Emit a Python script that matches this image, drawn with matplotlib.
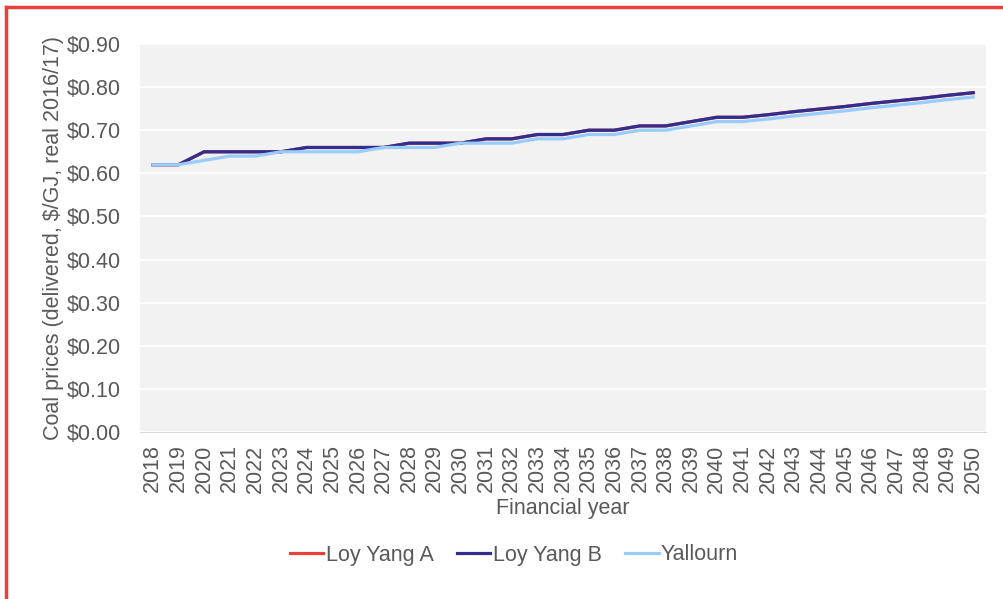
import matplotlib.pyplot as plt
from matplotlib.ticker import FuncFormatter
from matplotlib.lines import Line2D

plt.rcParams['font.family'] = ['Liberation Sans', 'DejaVu Sans']

years = list(range(2018, 2051))
loy_yang_a = [0.62, 0.62, 0.65, 0.65, 0.65, 0.65, 0.66, 0.66, 0.66, 0.66,
              0.67, 0.67, 0.67, 0.68, 0.68, 0.69, 0.69, 0.70, 0.70, 0.71,
              0.71, 0.72, 0.73, 0.73, 0.736, 0.743, 0.749, 0.755, 0.762,
              0.768, 0.774, 0.781, 0.787]
loy_yang_b = list(loy_yang_a)
yallourn = [0.62, 0.62, 0.63, 0.64, 0.64, 0.65, 0.65, 0.65, 0.65, 0.66,
            0.66, 0.66, 0.67, 0.67, 0.67, 0.68, 0.68, 0.69, 0.69, 0.70,
            0.70, 0.71, 0.72, 0.72, 0.726, 0.733, 0.739, 0.745, 0.752,
            0.758, 0.764, 0.771, 0.777]

text_col = '#595959'
fs = 15.5
fig = plt.figure(figsize=(10.04, 5.99), dpi=100)
ax = fig.add_axes([140 / 1004, 1 - 432 / 599, 846 / 1004, 388 / 599])
ax.set_facecolor('#F2F2F2')

ax.plot(years, loy_yang_a, color='#E8413A', lw=2.3, label='Loy Yang A')
ax.plot(years, loy_yang_b, color='#302F8E', lw=2.3, label='Loy Yang B')
ax.plot(years, yallourn, color='#99CCFF', lw=2.3, label='Yallourn')

ax.set_xlim(2017.5, 2050.5)
ax.set_ylim(0, 0.9)
ax.set_yticks([i / 10 for i in range(10)])
ax.yaxis.set_major_formatter(FuncFormatter(lambda v, p: r'\$%.2f' % v))
ax.set_xticks(years)
ax.set_xticklabels([str(y) for y in years], rotation=90)
ax.tick_params(axis='both', length=0, labelsize=fs, labelcolor=text_col)
ax.tick_params(axis='x', pad=9)
ax.tick_params(axis='y', pad=14)
ax.grid(axis='y', color='white', lw=1.3)
ax.set_axisbelow(True)
for s in ['top', 'right', 'left']:
    ax.spines[s].set_visible(False)
ax.spines['bottom'].set_color('#D9D9D9')

ax.set_xlabel('Financial year', fontsize=fs, color=text_col, labelpad=4)
ax.set_ylabel(r'Coal prices (delivered, \$/GJ, real 2016/17)', fontsize=fs,
              color=text_col, labelpad=1.5)

fig.legend(loc='center', bbox_to_anchor=(514 / 1004, 1 - 555 / 599), ncol=3,
           frameon=False, fontsize=fs, labelcolor=text_col, handlelength=1.55,
           handletextpad=0.1, columnspacing=1.1)

# red frame (top and left edges visible)
fig.add_artist(Line2D([6 / 1004, 1], [1 - 7 / 599, 1 - 7 / 599],
                      transform=fig.transFigure, color='#E8413A', lw=2.5))
fig.add_artist(Line2D([6 / 1004, 6 / 1004], [0, 1 - 7 / 599],
                      transform=fig.transFigure, color='#E8413A', lw=2.5))

fig.savefig('out.png', dpi=100)
